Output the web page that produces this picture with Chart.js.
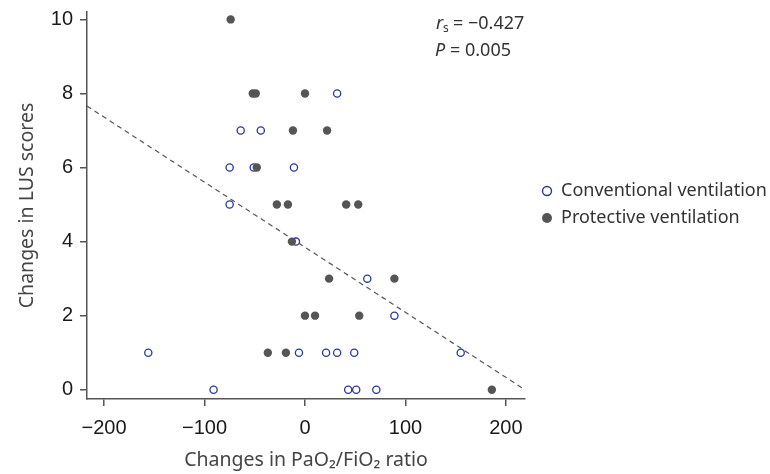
<!DOCTYPE html>
<html>
<head>
<meta charset="utf-8">
<script src="https://cdn.jsdelivr.net/npm/chart.js@4/dist/chart.umd.min.js"></script>
<style>
  html, body { margin: 0; padding: 0; background: #fff; }
  #wrap { width: 770px; height: 474px; position: relative; }
</style>
</head>
<body>
<div id="wrap"><canvas id="chart"></canvas></div>
<script>
// Changes in PaO2/FiO2 ratio (x) vs changes in LUS scores (y)
const conventionalX = [32, -64, -44, -75, -51, -11, -75, -9, 62, 89, -156, -6, 21, 32, 49, 155, -91, 43, 51, 71];
const conventionalY = [8, 7, 7, 6, 6, 6, 5, 4, 3, 2, 1, 1, 1, 1, 1, 1, 0, 0, 0, 0];
const protectiveX = [-74, -52, -49, 0, -12, 22, -48, -28, -17, 41, 53, -13, 24, 89, 0, 10, 54, -37, -19, 186];
const protectiveY = [10, 8, 8, 8, 7, 7, 6, 5, 5, 5, 5, 4, 3, 3, 2, 2, 2, 1, 1, 0];
const fitX = [-217, 219];
const fitY = [7.66, 0.0];
const xTicks = [-200, -100, 0, 100, 200];
const yTicks = [0, 2, 4, 6, 8, 10];
const seriesNames = ['Conventional ventilation', 'Protective ventilation'];

const toPoints = (xs, ys) => xs.map((x, i) => ({ x: x, y: ys[i] }));
const minus = v => String(v).replace('-', '\u2212');

const BLUE = '#2b3a98';
const GRAY = '#555555';
const AXIS = '#555555';

// legend + statistics text drawn onto the canvas
const extras = {
  id: 'extras',
  afterDraw(chart) {
    const ctx = chart.ctx;
    ctx.save();
    ctx.fillStyle = '#333';
    ctx.textBaseline = 'middle';
    ctx.textAlign = 'left';
    // statistics
    ctx.font = 'italic 18px "Noto Sans"';
    ctx.fillText('r', 436, 24);
    ctx.font = '12px "Noto Sans"';
    ctx.fillText('s', 443, 29);
    ctx.font = '18px "Noto Sans"';
    ctx.fillText('= \u22120.427', 453, 24);
    ctx.font = 'italic 18px "Noto Sans"';
    ctx.fillText('P', 435, 51);
    ctx.font = '18px "Noto Sans"';
    ctx.fillText('= 0.005', 450, 51);
    // legend
    ctx.lineWidth = 1.4;
    ctx.strokeStyle = BLUE;
    ctx.beginPath();
    ctx.arc(547, 191, 4.5, 0, Math.PI * 2);
    ctx.stroke();
    ctx.fillStyle = GRAY;
    ctx.beginPath();
    ctx.arc(547, 218, 5, 0, Math.PI * 2);
    ctx.fill();
    ctx.fillStyle = '#333';
    ctx.font = '18px "Noto Sans"';
    ctx.fillText(seriesNames[0], 561, 191);
    ctx.fillText(seriesNames[1], 561, 218);
    ctx.restore();
  }
};

new Chart(document.getElementById('chart'), {
  type: 'scatter',
  data: {
    datasets: [
      {
        label: seriesNames[1],
        data: toPoints(protectiveX, protectiveY),
        backgroundColor: GRAY,
        borderColor: GRAY,
        borderWidth: 0,
        pointRadius: 4.2,
        order: 1
      },
      {
        label: seriesNames[0],
        data: toPoints(conventionalX, conventionalY),
        backgroundColor: '#ffffff',
        borderColor: BLUE,
        borderWidth: 1.3,
        pointRadius: 3.6,
        order: 2
      },
      {
        type: 'line',
        label: 'fit',
        data: toPoints(fitX, fitY),
        borderColor: '#555',
        borderWidth: 1.2,
        borderDash: [5, 4],
        pointRadius: 0,
        fill: false,
        order: 3
      }
    ]
  },
  options: {
    responsive: true,
    maintainAspectRatio: false,
    animation: false,
    layout: { padding: { top: 12, right: 245, left: 0, bottom: 0 } },
    plugins: {
      legend: { display: false },
      tooltip: { enabled: false }
    },
    scales: {
      x: {
        type: 'linear',
        min: -217,
        max: 219,
        afterBuildTicks: s => { s.ticks = xTicks.map(v => ({ value: v })); },
        afterFit: s => { s.height = 75; s.paddingLeft = 0; s.paddingRight = 0; },
        ticks: {
          callback: v => minus(v),
          color: '#1a1a1a',
          font: { family: '"Liberation Sans", Arial', size: 20 },
          padding: 10
        },
        grid: { drawOnChartArea: false, drawTicks: true, tickLength: 7, color: AXIS, lineWidth: 1.5 },
        border: { display: true, color: AXIS, width: 1.5 },
        title: {
          display: true,
          text: 'Changes in PaO\u2082/FiO\u2082 ratio',
          color: '#444',
          font: { family: '"Noto Sans"', size: 19.5 },
          padding: { top: 0, bottom: 2 }
        }
      },
      y: {
        type: 'linear',
        min: -0.25,
        max: 10.2,
        afterBuildTicks: s => { s.ticks = yTicks.map(v => ({ value: v })); },
        afterFit: s => { s.width = 87; s.paddingTop = 0; s.paddingBottom = 0; },
        ticks: {
          color: '#1a1a1a',
          font: { family: '"Liberation Sans", Arial', size: 20 },
          padding: 7
        },
        grid: { drawOnChartArea: false, drawTicks: true, tickLength: 7, color: AXIS, lineWidth: 1.5 },
        border: { display: true, color: AXIS, width: 1.5 },
        title: {
          display: true,
          text: 'Changes in LUS scores',
          color: '#444',
          font: { family: '"Noto Sans"', size: 19.5 },
          padding: { top: 16, bottom: 0 }
        }
      }
    }
  },
  plugins: [extras]
});
</script>
</body>
</html>
